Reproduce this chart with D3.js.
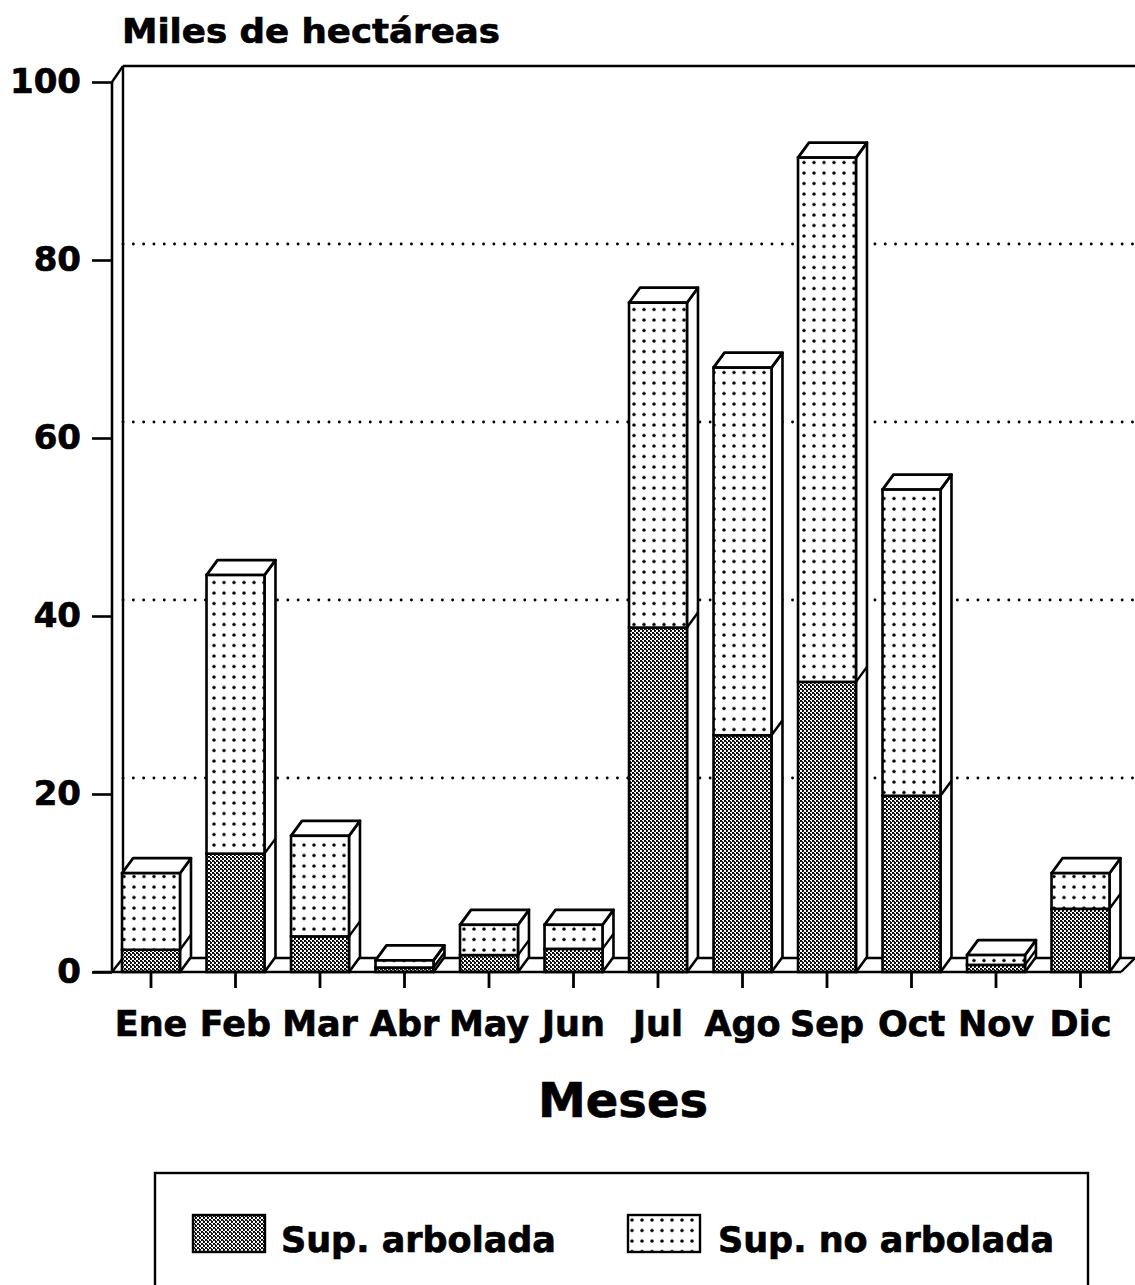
<!DOCTYPE html>
<html>
<head>
<meta charset="utf-8">
<script src="https://cdn.jsdelivr.net/npm/d3@7"></script>
<style>
  html, body { margin: 0; padding: 0; background: #fff; }
  svg text { font-family: "DejaVu Sans", "Liberation Sans", sans-serif; font-weight: bold; fill: #000; stroke: #000; stroke-width: 0.7; }
</style>
</head>
<body>
<div id="chart"></div>
<script>
// Data (miles de hectáreas)
const months = ['Ene', 'Feb', 'Mar', 'Abr', 'May', 'Jun', 'Jul', 'Ago', 'Sep', 'Oct', 'Nov', 'Dic'];
const arbolada   = [2.5, 13.3, 4.0, 0.5, 1.9, 2.6, 38.7, 26.6, 32.6, 19.8, 0.8, 7.1];
const noArbolada = [8.6, 31.3, 11.3, 0.8, 3.4, 2.7, 36.5, 41.3, 58.9, 34.4, 1.1, 4.0];
const yTicks = [0, 20, 40, 60, 80, 100];
const gridTicks = [20, 40, 60, 80];
const seriesNames = ['Sup. arbolada', 'Sup. no arbolada'];

const width = 1135, height = 1285;
const axisX = 112;          // front y-axis line
const wall = { dx: 11, dy: 16 };   // offset of the back wall
const depth = { dx: 11, dy: 15 };  // bar depth

const svg = d3.select('#chart').append('svg')
  .attr('width', width)
  .attr('height', height);

// Patterns
const defs = svg.append('defs');
const hatch = defs.append('pattern')
  .attr('id', 'hatch')
  .attr('patternUnits', 'userSpaceOnUse')
  .attr('width', 4).attr('height', 4);
hatch.append('rect').attr('width', 4).attr('height', 4).attr('fill', '#fff');
hatch.append('path').attr('d', 'M0 0h2v2H0z M2 2h2v2H2z').attr('fill', '#000');
hatch.append('path').attr('d', 'M1 1h2v1H1z M3 3h1v1H3z').attr('fill', '#333');

const dots = defs.append('pattern')
  .attr('id', 'dots')
  .attr('patternUnits', 'userSpaceOnUse')
  .attr('width', 10).attr('height', 10.5);
dots.append('rect').attr('width', 10).attr('height', 10.5).attr('fill', '#fff');
dots.append('circle').attr('cx', 4).attr('cy', 5).attr('r', 1.7).attr('fill', '#000');

// Scales
const x = d3.scaleBand()
  .domain(months)
  .range([108.75, 108.75 + 12 * 84.5])
  .paddingInner(0.314)
  .paddingOuter(0.157);

const y = d3.scaleLinear()
  .domain([0, 100])
  .range([972, 82]);

const line = (x1, y1, x2, y2, w = 2.4) => svg.append('line')
  .attr('x1', x1).attr('y1', y1).attr('x2', x2).attr('y2', y2)
  .attr('stroke', '#000').attr('stroke-width', w);

// Back wall: dotted gridlines
svg.append('g')
  .selectAll('line')
  .data(gridTicks)
  .join('line')
    .attr('x1', axisX + wall.dx)
    .attr('x2', width)
    .attr('y1', d => y(d) - wall.dy)
    .attr('y2', d => y(d) - wall.dy)
    .attr('stroke', '#000')
    .attr('stroke-width', 2.8)
    .attr('stroke-linecap', 'round')
    .attr('stroke-dasharray', '0.1,10.2');

// Wall outline
line(axisX + wall.dx, y(100) - wall.dy, width, y(100) - wall.dy, 2.6);
line(axisX + wall.dx, y(100) - wall.dy, axisX + wall.dx, y(0) - wall.dy + 2);
line(axisX, y(100), axisX + wall.dx, y(100) - wall.dy);

// Floor
line(axisX + wall.dx, y(0) - wall.dy + 2, width, y(0) - wall.dy + 2);
line(1121, y(0), 1135, y(0) - wall.dy + 2);
line(axisX, y(0), axisX + wall.dx, y(0) - wall.dy + 2);

// Stacked data
const stackData = months.map((m, i) => ({ month: m, a: arbolada[i], n: noArbolada[i] }));
const stack = d3.stack().keys(['a', 'n'])(stackData);
const fills = ['url(#hatch)', 'url(#dots)'];

// Bars
const bars = svg.append('g')
  .selectAll('g')
  .data(stackData)
  .join('g');

bars.each(function (d, i) {
  const g = d3.select(this);
  const x0 = x(d.month), x1 = x0 + x.bandwidth();
  const yTop = y(stack[1][i][1]);
  const yMid = y(stack[0][i][1]);
  const y0 = y(0);
  // side face
  g.append('path')
    .attr('d', `M${x1},${y0}L${x1 + depth.dx},${y0 - depth.dy}L${x1 + depth.dx},${yTop - depth.dy}L${x1},${yTop}Z`)
    .attr('fill', '#fff').attr('stroke', '#000').attr('stroke-width', 2.6).attr('stroke-linejoin', 'round');
  g.append('line')
    .attr('x1', x1).attr('y1', yMid).attr('x2', x1 + depth.dx).attr('y2', yMid - depth.dy)
    .attr('stroke', '#000').attr('stroke-width', 2.4);
  // top face
  g.append('path')
    .attr('d', `M${x0},${yTop}L${x0 + depth.dx},${yTop - depth.dy}L${x1 + depth.dx},${yTop - depth.dy}L${x1},${yTop}Z`)
    .attr('fill', '#fff').attr('stroke', '#000').attr('stroke-width', 2.8).attr('stroke-linejoin', 'round');
  // front faces
  stack.forEach((s, k) => {
    g.append('rect')
      .attr('x', x0)
      .attr('y', y(s[i][1]))
      .attr('width', x.bandwidth())
      .attr('height', Math.max(0, y(s[i][0]) - y(s[i][1])))
      .attr('fill', fills[k])
      .attr('stroke', '#000')
      .attr('stroke-width', 2.6);
  });
});

// Front floor line + axis line
line(93, y(0), 1121, y(0), 2.6);
line(axisX, y(0), axisX, y(100), 2.6);

// Y axis
const yAxis = svg.append('g')
  .attr('transform', `translate(${axisX},0)`)
  .call(d3.axisLeft(y).tickValues(yTicks).tickSize(20).tickPadding(11).tickFormat(d3.format('d')));
yAxis.select('.domain').remove();
yAxis.selectAll('line').attr('stroke', '#000').attr('stroke-width', 2.6);
yAxis.selectAll('text').attr('font-size', 34).attr('font-family', '"DejaVu Sans", sans-serif').attr('font-weight', 'bold');

// X axis
const xAxis = svg.append('g')
  .attr('transform', `translate(0,${y(0)})`)
  .call(d3.axisBottom(x).tickSize(16).tickPadding(23));
xAxis.select('.domain').remove();
xAxis.selectAll('line').attr('stroke', '#000').attr('stroke-width', 2.8);
xAxis.selectAll('text').attr('font-size', 35).attr('font-family', '"DejaVu Sans", sans-serif').attr('font-weight', 'bold');

// Titles
svg.append('text')
  .attr('x', 122).attr('y', 43)
  .attr('font-size', 34)
  .attr('textLength', 378).attr('lengthAdjust', 'spacingAndGlyphs')
  .text('Miles de hectáreas');

svg.append('text')
  .attr('x', 623).attr('y', 1117)
  .attr('text-anchor', 'middle')
  .attr('font-size', 48)
  .text('Meses');

// Legend
svg.append('rect')
  .attr('x', 155).attr('y', 1173)
  .attr('width', 933).attr('height', 160)
  .attr('fill', 'none').attr('stroke', '#000').attr('stroke-width', 2.4);

const legendX = [193, 628];
const legend = svg.append('g')
  .selectAll('g')
  .data(seriesNames)
  .join('g')
    .attr('transform', (d, i) => `translate(${legendX[i]},1215)`);
legend.append('rect')
  .attr('width', 72).attr('height', 37)
  .attr('fill', (d, i) => fills[i])
  .attr('stroke', '#000').attr('stroke-width', 2.4);
legend.append('text')
  .attr('x', (d, i) => i === 0 ? 88 : 90)
  .attr('y', 37)
  .attr('font-size', 35)
  .text(d => d);
</script>
</body>
</html>
